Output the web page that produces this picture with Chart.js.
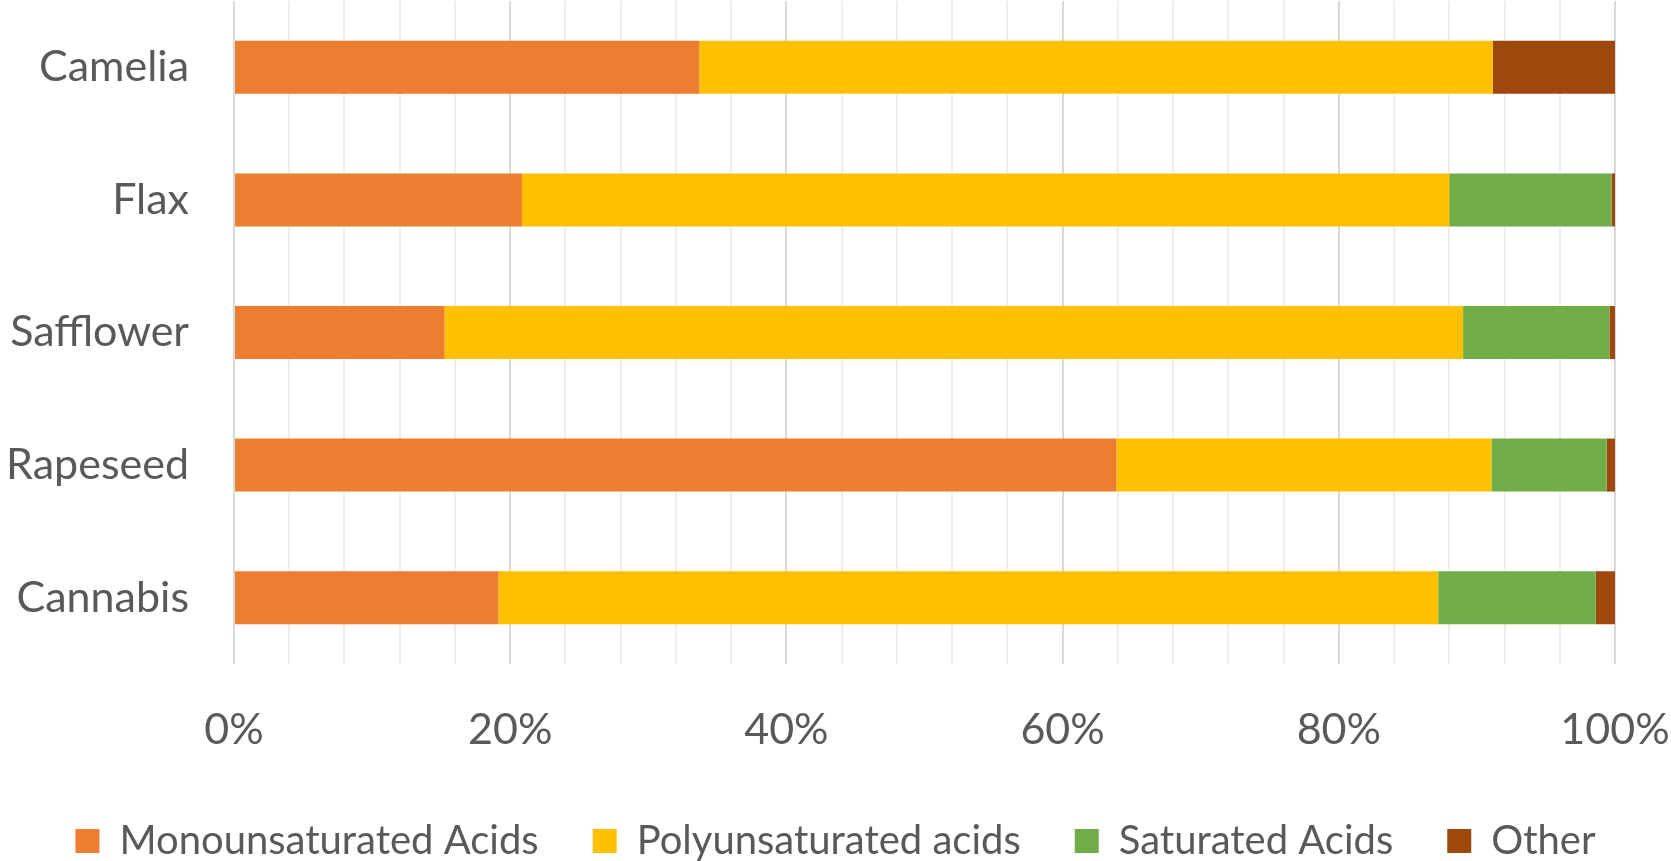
<!DOCTYPE html>
<html>
<head>
<meta charset="utf-8">
<script src="https://cdn.jsdelivr.net/npm/chart.js@4"></script>
<style>
  html, body { margin: 0; padding: 0; background: #fff; }
  #wrap { width: 1671px; height: 861px; }
</style>
</head>
<body>
<div id="wrap"><canvas id="oil_chart" width="1671" height="861"></canvas></div>
<script>
// oils, top to bottom
var oils = ["Camelia", "Flax", "Safflower", "Rapeseed", "Cannabis"];

// share of each fatty acid group, in %
var mono  = [33.7, 20.85, 15.25, 63.9, 19.15];
var poly  = [57.45, 67.15, 73.75, 27.15, 68.05];
var sat   = [0, 11.75, 10.6, 8.35, 11.4];
var other = [8.85, 0.25, 0.4, 0.6, 1.4];

var xTicks = [0, 20, 40, 60, 80, 100];

var textColor = "#595959";

// push the legend a bit lower, into the empty space under the axis labels
var legendShift = {
  id: "legendShift",
  afterLayout: function (chart) {
    chart.legend.top += 10;
    chart.legend.bottom += 10;
  },
};

var canvasElement = document.getElementById("oil_chart");
var config = {
  type: "bar",
  data: {
    labels: oils,
    datasets: [
      { label: "Monounsaturated Acids", data: mono, backgroundColor: "#ED7D31" },
      { label: "Polyunsaturated acids", data: poly, backgroundColor: "#FFC000" },
      { label: "Saturated Acids", data: sat, backgroundColor: "#70AD47" },
      { label: "Other", data: other, backgroundColor: "#9E480E" },
    ],
  },
  options: {
    indexAxis: "y",
    responsive: false,
    animation: false,
    devicePixelRatio: 1,
    categoryPercentage: 1,
    barPercentage: 0.4,
    layout: { padding: { top: 1, right: 0, bottom: 0, left: 0 } },
    scales: {
      x: {
        stacked: true,
        min: 0,
        max: 100,
        afterFit: function (scale) {
          scale.height = 93;
          scale.paddingLeft = 0;
          scale.paddingRight = 0;
        },
        border: { display: false },
        grid: {
          drawTicks: false,
          lineWidth: 2,
          color: function (ctx) {
            return ctx.tick && xTicks.indexOf(Math.round(ctx.tick.value)) >= 0 ? "#D9D9D9" : "#EEEEEE";
          },
        },
        ticks: {
          stepSize: 4,
          autoSkip: false,
          maxRotation: 0,
          padding: 40,
          color: textColor,
          font: { family: "Lato", size: 43 },
          callback: function (v) {
            return xTicks.indexOf(Math.round(v)) >= 0 ? Math.round(v) + "%" : "";
          },
        },
      },
      y: {
        stacked: true,
        afterFit: function (scale) {
          scale.width = 234;
          scale.paddingTop = 0;
          scale.paddingBottom = 0;
        },
        border: { display: false },
        grid: { display: false, drawTicks: false },
        ticks: {
          padding: 45,
          color: textColor,
          font: { family: "Lato", size: 43 },
        },
      },
      // empty strip on the right, keeps the 100% label inside
      yRight: {
        type: "linear",
        position: "right",
        afterFit: function (scale) {
          scale.width = 56;
          scale.paddingTop = 0;
          scale.paddingBottom = 0;
        },
        border: { display: false },
        grid: { display: false, drawTicks: false },
        ticks: { display: false },
      },
    },
    plugins: {
      tooltip: { enabled: false },
      legend: {
        position: "bottom",
        labels: {
          boxWidth: 24,
          boxHeight: 24,
          padding: 54,
          color: textColor,
          font: { family: "Lato", size: 40 },
        },
      },
    },
  },
  plugins: [legendShift],
};

var oil_chart = new Chart(canvasElement, config);
</script>
</body>
</html>
